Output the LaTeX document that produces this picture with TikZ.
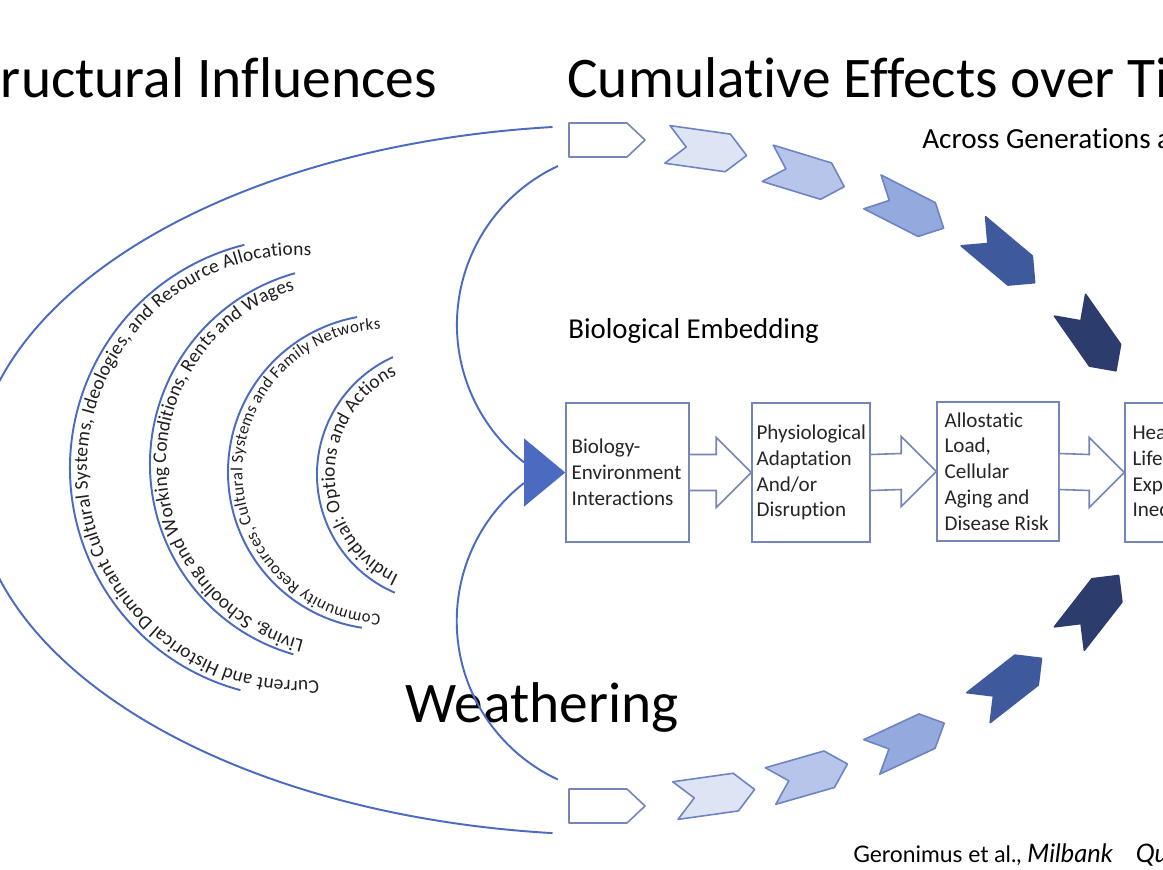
\documentclass[tikz,border=0pt]{standalone}
\usepackage{fontspec}
\setmainfont{Carlito}[Ligatures=NoCommon]
\newfontfamily\citefont{Lato}
\usetikzlibrary{decorations.text,fit,calc}
\definecolor{lineblue}{HTML}{4A6BC0}
\definecolor{boxc}{HTML}{7585B8}
\definecolor{chA}{HTML}{DDE4F4}
\definecolor{chB}{HTML}{B8C5EA}
\definecolor{chC}{HTML}{94A9DD}
\definecolor{chD}{HTML}{3E5A9C}
\definecolor{chE}{HTML}{2C3C6C}
\definecolor{chedge}{HTML}{6D84C4}
\newcommand\arcfontA{\fontsize{11}{13}\selectfont}
\newcommand\arcfontC{\fontsize{9.6}{11}\selectfont}
\newcommand\mychev[5]{%
  \begin{scope}[shift={(#1,#2)},rotate=#3]
    \filldraw[fill=#4,draw=#5,line width=0.9pt,line join=round]
      (-40,-19) -- (21,-19) -- (40,0) -- (21,19) -- (-40,19) -- (-21,0) -- cycle;
  \end{scope}}
\newcommand\mypent[2]{%
  \begin{scope}[shift={(#1,#2)}]
    \filldraw[fill=white,draw=boxc,line width=0.9pt,line join=round]
      (-38,-17) -- (20,-17) -- (38,0) -- (20,17) -- (-38,17) -- cycle;
  \end{scope}}
\newcommand\blockarrow[2]{%
  \draw[arrowst] ($(#1.east)+(0,-18)$) -- ($(#2.west)+(-35,-18)$) -- ($(#2.west)+(-35,-35)$)
    -- (#2.west) -- ($(#2.west)+(-35,35)$) -- ($(#2.west)+(-35,18)$) -- ($(#1.east)+(0,18)$);}
\tikzset{
  bl/.style={draw=lineblue,line width=1.1pt},
  boxst/.style={draw=boxc,line width=0.9pt,inner sep=0pt,fill=white},
  boxtxt/.style={align=left,inner sep=0pt,font=\fontsize{12}{14.7}\selectfont,text=black!85},
  arrowst/.style={draw=boxc,line width=0.9pt,line join=miter,fill=white},
  titletxt/.style={inner sep=0pt,font=\fontsize{32.7}{39}\selectfont,text=black},
  arctext/.style={decorate,decoration={text along path,text align=fit to path,text color=black!88}},
}
\begin{document}
\begin{tikzpicture}[x=0.02cm,y=-0.02cm]
\useasboundingbox (0,0) rectangle (1163,869);
\clip (0,0) rectangle (1163,869);
\fill[white] (0,0) rectangle (1163,869);

% titles
\node[titletxt,anchor=base west] (tS) at (-45,97) {Structural Influences};
\node[titletxt,anchor=base west] (tC) at (567,97) {Cumulative Effects over Time};
\node[inner sep=0pt,anchor=base west,font=\fontsize{16.6}{20}\selectfont] (tA) at (922,148) {Across Generations and};
\node[inner sep=0pt,anchor=base west,font=\fontsize{16.4}{20}\selectfont] (tB) at (568,338) {Biological Embedding};
\node[inner sep=0pt,anchor=base west,font=\fontsize{32.7}{39}\selectfont] (tW) at (405,722) {Weathering};
\node[inner sep=0pt,anchor=base west,font=\citefont\fontsize{13}{16}\selectfont] (cite) at (853,862)
  {Geronimus et al., {\fontsize{14.5}{16}\selectfont\itshape Milbank\hspace{13pt}Quarterly}};

% big outer arc
\coordinate (oa) at (552.5,127);
\draw[bl] (oa) arc[start angle=-96,end angle=-264,x radius=646,y radius=355];

% inner curves to the triangle
\coordinate (ua) at (558,166);
\coordinate (lb) at (524,483);
\draw[bl] (ua) arc[start angle=245,end angle=128,radius=175];
\draw[bl] (lb) arc[start angle=232,end angle=115,radius=175];

% concentric arcs
\coordinate (cA) at (300,468);
\coordinate (cB) at (348,464);
\coordinate (cCc) at (385.5,472);
\coordinate (cD) at (445.7,474.5);
\draw[bl] ($(cA)+(105:230)$) arc[start angle=105,end angle=256,radius=230];
\draw[bl] ($(cB)+(106:198)$) arc[start angle=106,end angle=254.5,radius=198];
\draw[bl] ($(cCc)+(98.6:157.5)$) arc[start angle=98.6,end angle=259.6,radius=157.5];
\draw[bl] ($(cD)+(113.3:128.7)$) arc[start angle=113.3,end angle=245.8,radius=128.7];

\path[arctext,decoration={text={|\arcfontA|Current and Historical Dominant Cultural Systems, Ideologies, and Resource Allocations}}]
  ($(cA)+(85:213)$) arc[start angle=85,end angle=273,radius=213];
\path[arctext,decoration={text={|\arcfontA|Living, Schooling and Working Conditions, Rents and Wages}}]
  ($(cB)+(104:182)$) arc[start angle=104,end angle=253,radius=182];
\path[arctext,decoration={text={|\arcfontC|Community Resources, Cultural Systems and Family Networks}}]
  ($(cCc)+(92:143)$) arc[start angle=92,end angle=268,radius=143];
\path[arctext,decoration={text={|\arcfontA|Individual: Options and Actions}}]
  ($(cD)+(115:111)$) arc[start angle=115,end angle=244,radius=111];

% boxes
\node[boxst,fit={(566,403) (689,542)}] (b1) {};
\node[boxst,fit={(752,403) (870,542)}] (b2) {};
\node[boxst,fit={(937,402) (1059,541)}] (b3) {};
\node[boxst,fit={(1125,403) (1260,542)}] (b4) {};
\node[boxtxt,anchor=west] (t1) at ($(b1.west)+(6,0)$) {Biology-\\Environment\\Interactions};
\node[boxtxt,anchor=west] (t2) at ($(b2.west)+(5,0)$) {Physiological\\Adaptation\\And/or\\Disruption};
\node[boxtxt,anchor=west] (t3) at ($(b3.west)+(8,0)$) {Allostatic\\Load,\\Cellular\\Aging and\\Disease Risk};
\node[boxtxt,anchor=west] (t4) at ($(b4.west)+(8,0)$) {Health and\\Life\\Expectancy\\Inequity};
\blockarrow{b1}{b2}
\blockarrow{b2}{b3}
\blockarrow{b3}{b4}

% big triangle head
\fill[lineblue] ($(b1.west)+(-41,-34)$) -- (b1.west) -- ($(b1.west)+(-41,34)$) -- cycle;

% chevrons top
\mypent{607}{140}
\mychev{707}{150}{-8}{chA}{chedge}
\mychev{806}{175}{-17}{chB}{chedge}
\mychev{908}{210}{-27}{chC}{chedge}
\mychev{1004}{257}{-40}{chD}{chD}
\mychev{1093}{338}{-55}{chE}{chE}
% chevrons bottom
\mypent{607}{806}
\mychev{715}{795}{8}{chA}{chedge}
\mychev{809}{775}{16}{chB}{chedge}
\mychev{908}{740}{25}{chC}{chedge}
\mychev{1010}{683}{38}{chD}{chD}
\mychev{1094}{607}{52}{chE}{chE}
\end{tikzpicture}
\end{document}
